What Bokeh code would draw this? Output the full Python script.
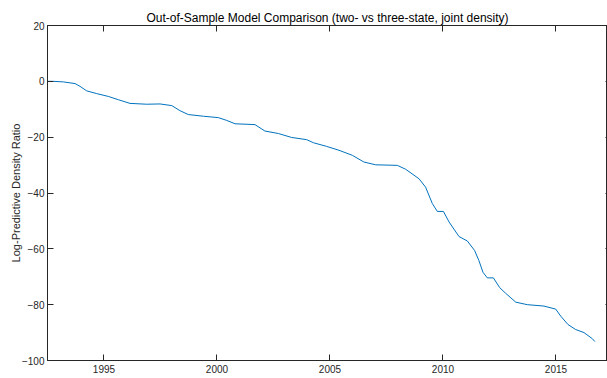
from bokeh.plotting import figure
from bokeh.models import Range1d, FixedTicker, LinearAxis
from bokeh.embed import file_html
from bokeh.resources import INLINE

# Cumulative log-predictive density ratio, two- vs three-state model
dates = [
    1992.50, 1992.76, 1993.20, 1993.72, 1993.94, 1994.23, 1994.68, 1995.19,
    1995.64, 1996.15, 1996.89, 1997.48, 1998.00, 1998.36, 1998.73, 1999.40,
    2000.06, 2000.43, 2000.80, 2001.68, 2002.12, 2002.72, 2003.30, 2003.97,
    2004.27, 2004.85, 2005.40, 2005.99, 2006.50, 2007.02, 2007.98, 2008.35,
    2008.94, 2009.23, 2009.53, 2009.75, 2010.02, 2010.27, 2010.71, 2011.08,
    2011.40, 2011.59, 2011.77, 2011.96, 2012.23, 2012.51, 2012.77, 2013.22,
    2013.73, 2014.47, 2014.99, 2015.21, 2015.53, 2015.87, 2016.24, 2016.61,
    2016.72,
]
log_ratio = [
    0.0, 0.0, -0.2, -0.8, -1.8, -3.4, -4.4, -5.4,
    -6.6, -7.9, -8.2, -8.1, -8.7, -10.5, -11.9, -12.5,
    -13.0, -14.0, -15.2, -15.5, -17.8, -18.7, -20.1, -20.9,
    -22.0, -23.3, -24.7, -26.5, -28.9, -29.9, -30.1, -31.5,
    -34.9, -37.9, -43.8, -46.6, -46.6, -50.4, -55.6, -57.2,
    -60.6, -64.2, -68.4, -70.4, -70.4, -73.9, -75.9, -79.1,
    -80.0, -80.5, -81.6, -84.1, -87.1, -88.9, -90.0, -92.2,
    -93.2,
]
x_ticks = [1995, 2000, 2005, 2010, 2015]
y_ticks = [-100, -80, -60, -40, -20, 0, 20]

FONT = "Liberation Sans"
AXIS_COLOR = "#262626"

p = figure(
    width=607, height=378,
    x_range=Range1d(1992.5, 2017.28), y_range=Range1d(-100, 20),
    output_backend="svg", toolbar_location=None,
    x_axis_location=None, y_axis_location=None,
    min_border_left=47, min_border_right=0, min_border_top=25, min_border_bottom=18,
    title="Out-of-Sample Model Comparison (two- vs three-state, joint density)",
)
p.background_fill_color = "white"
p.border_fill_color = "white"
p.outline_line_color = AXIS_COLOR
p.outline_line_width = 1
p.xgrid.visible = False
p.ygrid.visible = False

p.title.align = "center"
p.title.text_font = FONT
p.title.text_font_size = "12px"
p.title.text_font_style = "normal"
p.title.text_color = "#000000"
p.title.standoff = 2


def style_axis(ax, ticks, show_labels, tick_len=6):
    ax.ticker = FixedTicker(ticks=ticks)
    ax.axis_line_color = AXIS_COLOR
    ax.axis_line_width = 1
    ax.major_tick_line_color = AXIS_COLOR
    ax.major_tick_in = tick_len
    ax.major_tick_out = 0
    ax.minor_tick_line_color = None
    ax.major_label_text_font = FONT
    if show_labels:
        ax.major_label_text_color = AXIS_COLOR
        ax.major_label_text_font_size = "10px"
        ax.major_label_standoff = 4
    else:
        # box edges: ticks only, no labels
        ax.major_label_text_color = None
        ax.major_label_text_font_size = "0px"
        ax.major_label_standoff = 0


bottom = LinearAxis()
style_axis(bottom, x_ticks, True)
p.add_layout(bottom, "below")

left = LinearAxis(axis_label="Log-Predictive Density Ratio")
style_axis(left, y_ticks, True)
left.major_label_standoff = 3
left.axis_label_text_font = FONT
left.axis_label_text_font_size = "11px"
left.axis_label_text_font_style = "normal"
left.axis_label_text_color = AXIS_COLOR
left.axis_label_standoff = -3
p.add_layout(left, "left")

top = LinearAxis()
style_axis(top, x_ticks, False)
p.add_layout(top, "above")

right = LinearAxis()
style_axis(right, y_ticks, False, tick_len=2)
right.axis_line_color = None
p.add_layout(right, "right")

p.line(dates, log_ratio, line_color="#0072BD", line_width=1)

open("out.html", "w").write(file_html(p, INLINE))
